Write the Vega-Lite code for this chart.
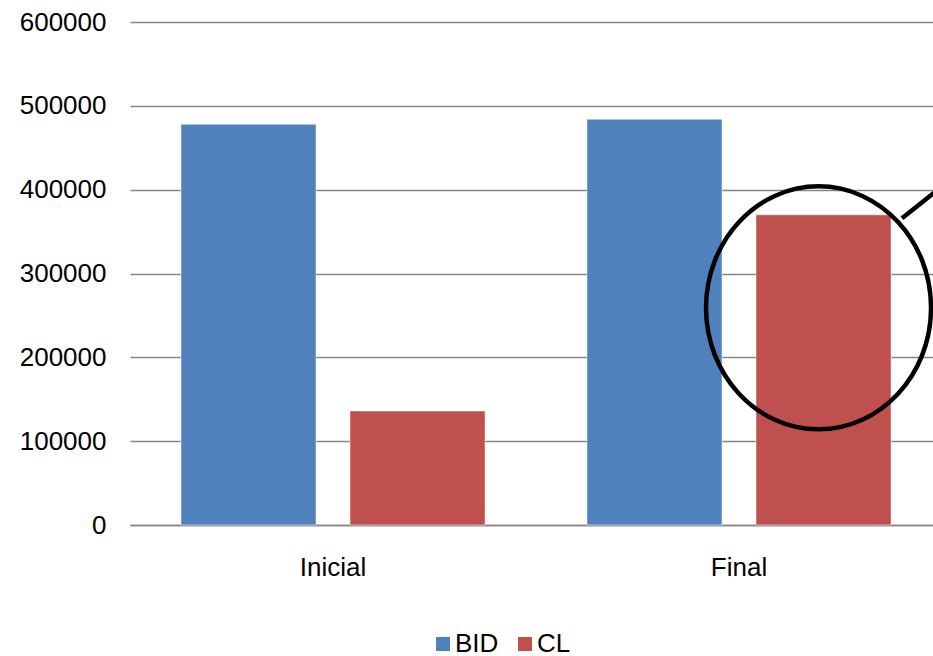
{
  "$schema": "https://vega.github.io/schema/vega-lite/v6.json",
  "autosize": {"type": "none"},
  "padding": {"left": 130, "top": 22, "right": 0, "bottom": 131},
  "width": 812,
  "height": 503,
  "background": "white",
  "config": {
    "view": {"stroke": null},
    "font": "Liberation Sans",
    "axis": {"labelFont": "Liberation Sans", "labelFontSize": 26, "labelColor": "black", "title": null},
    "legend": {"labelFont": "Liberation Sans", "labelFontSize": 26, "labelColor": "black"}
  },
  "datasets": {
    "bars": [
      {"fase": "Inicial", "serie": "BID", "valor": 478000},
      {"fase": "Inicial", "serie": "CL", "valor": 136000},
      {"fase": "Final", "serie": "BID", "valor": 484000},
      {"fase": "Final", "serie": "CL", "valor": 370000}
    ],
    "marca": [
      {"fase": "Final", "serie": "CL", "valor": 259000}
    ]
  },
  "layer": [
    {
      "data": {"name": "bars"},
      "mark": {"type": "bar", "stroke": "white", "strokeWidth": 0.5},
      "encoding": {
        "x": {
          "field": "fase", "type": "nominal", "sort": ["Inicial", "Final"],
          "scale": {"paddingInner": 0, "paddingOuter": 0},
          "axis": {"labelAngle": 0, "ticks": false, "labelPadding": 29, "domainColor": "#868686", "domainWidth": 1.5, "grid": false}
        },
        "xOffset": {
          "field": "serie", "type": "nominal", "sort": ["BID", "CL"],
          "scale": {"paddingInner": 0.201, "paddingOuter": 0.3015}
        },
        "y": {
          "field": "valor", "type": "quantitative",
          "scale": {"domain": [0, 600000], "nice": false},
          "axis": {"values": [0, 100000, 200000, 300000, 400000, 500000, 600000], "format": "d", "domain": false, "ticks": false, "labelPadding": 24, "gridColor": "#868686", "gridWidth": 1.5}
        },
        "color": {
          "field": "serie", "type": "nominal", "sort": ["BID", "CL"],
          "scale": {"domain": ["BID", "CL"], "range": ["#4F81BD", "#C0504D"]},
          "legend": {
            "title": null, "orient": "none", "direction": "horizontal",
            "legendX": 300, "legendY": 609,
            "symbolType": "square", "symbolSize": 196, "symbolStrokeWidth": 0,
            "labelOffset": -1, "columnPadding": 13
          }
        }
      }
    },
    {
      "data": {"name": "marca"},
      "mark": {
        "type": "point",
        "shape": "M0.885,0C0.885,0.552,0.47,1,-0.041,1C-0.552,1,-0.967,0.552,-0.967,0C-0.967,-0.552,-0.552,-1,-0.041,-1C0.47,-1,0.885,-0.552,0.885,0ZM0.646,-0.737L1.2,-1.18",
        "size": 59049,
        "filled": false,
        "stroke": "black",
        "strokeWidth": 4.5,
        "opacity": 1
      },
      "encoding": {
        "x": {"field": "fase", "type": "nominal", "sort": ["Inicial", "Final"]},
        "xOffset": {"field": "serie", "type": "nominal", "sort": ["BID", "CL"]},
        "y": {"field": "valor", "type": "quantitative"}
      }
    }
  ]
}
